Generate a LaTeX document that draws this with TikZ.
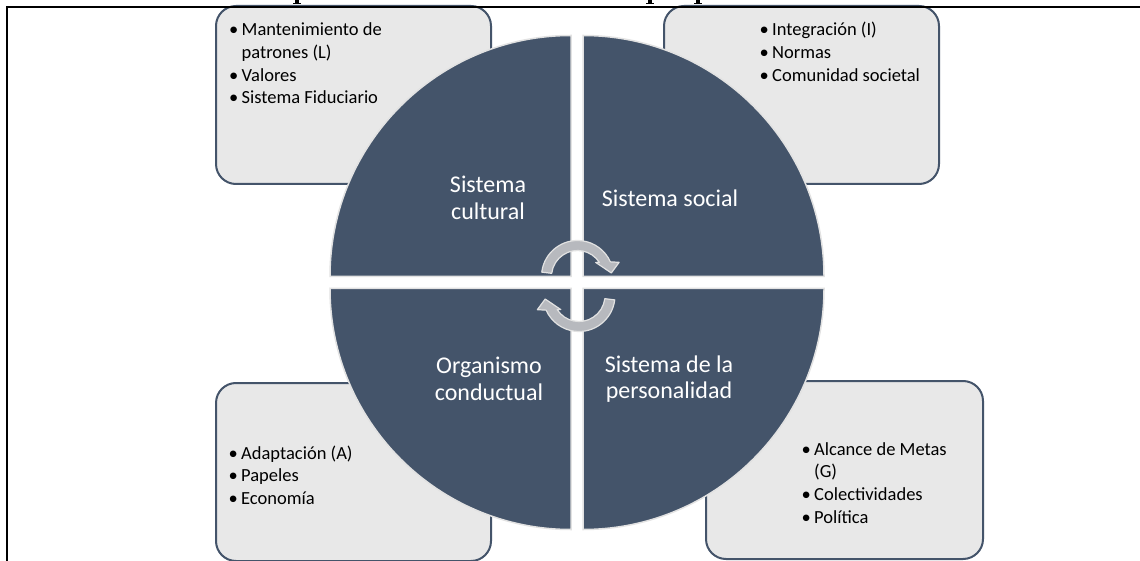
\documentclass[tikz,border=0pt]{standalone}
\usepackage{fontspec}
\setmainfont{Carlito}
\definecolor{slate}{HTML}{44546A}
\definecolor{boxgray}{HTML}{E8E8E8}
\definecolor{arrowgray}{RGB}{183,185,190}
\definecolor{edgegray}{RGB}{226,226,226}
\tikzset{
  infobox/.style={draw=slate, fill=boxgray, line width=2pt, rounded corners=20pt, inner sep=0pt, anchor=north west},
  quad/.style={fill=slate, draw=edgegray, line width=1.5pt, line join=miter},
  cyclearrow/.style={fill=arrowgray, draw=edgegray, line width=1.2pt, line join=round},
  bultext/.style={anchor=base west, inner sep=0pt, font=\fontsize{18.5}{22.8}\selectfont},
  quadlabel/.style={text=white, align=center, inner sep=0pt, font=\fontsize{24}{26.5}\selectfont},
  frameline/.style={line width=2pt, draw=black},
  glyphpart/.style={fill=black},
}
\newcommand\bul{\makebox[12.5pt][l]{\textbullet}}
\newcommand\cyclearrowpath{(173:36) arc[start angle=173, end angle=24, radius=36] -- (18.8:44) -- (6:34) -- (37.6:23) -- (33:26) arc[start angle=33, end angle=173, radius=26] -- cycle}
\begin{document}
\begin{tikzpicture}[x=1pt,y=1pt]
\useasboundingbox (0,0) rectangle (1140,-561);
\fill[white] (0,0) rectangle (1140,-561);

% cut-off title descenders
\fill[glyphpart] (295,0) rectangle (299,-4.2);
\fill[glyphpart] (292.8,-2.8) rectangle (301,-4.2);
\fill[glyphpart] (648,0) rectangle (652,-4.2);
\fill[glyphpart] (645.8,-2.8) rectangle (654,-4.2);
\fill[glyphpart] (696,0) rectangle (700,-4.2);
\fill[glyphpart] (693.8,-2.8) rectangle (702,-4.2);

% boxes
\node[infobox, minimum width=275pt, minimum height=178pt] (boxL) at (215,-5) {};
\node[infobox, minimum width=275pt, minimum height=178pt] (boxI) at (663,-5) {};
\node[infobox, minimum width=275pt, minimum height=178pt] (boxA) at (215,-382) {};
\node[infobox, minimum width=277pt, minimum height=178pt] (boxG) at (705,-380) {};

% quadrants
\path[quad] (571,-276.5) -- ++(-241,0) arc[start angle=180, end angle=90, radius=241] -- cycle;
\path[quad] (583,-276.5) -- ++(0,241) arc[start angle=90, end angle=0, radius=241] -- cycle;
\path[quad] (571,-288.5) -- ++(-241,0) arc[start angle=180, end angle=270, radius=241] -- cycle;
\path[quad] (583,-288.5) -- ++(241,0) arc[start angle=0, end angle=-90, radius=241] -- cycle;

% cycle arrows
\begin{scope}[shift={(577.5,-276.5)}]
\draw[cyclearrow] \cyclearrowpath;
\end{scope}
\begin{scope}[shift={(579,-295.5)}, rotate=180]
\draw[cyclearrow] \cyclearrowpath;
\end{scope}

% quadrant labels
\node[quadlabel] (qL) at (488,-198) {Sistema\\cultural};
\node[quadlabel] (qI) at (670,-198) {Sistema social};
\node[quadlabel] (qA) at (489,-379) {Organismo\\conductual};
\node[quadlabel] (qG) at (669,-379) {Sistema de la\\personalidad};

% box texts
\node[bultext] (tL) at (229,-35.5) {\begin{tabular}[t]{@{}l@{}l@{}}\bul&Mantenimiento de\\&patrones (L)\\\bul&Valores\\\bul&Sistema Fiduciario\end{tabular}};
\node[bultext] (tI) at (759.5,-36) {\begin{tabular}[t]{@{}l@{}l@{}}\bul&Integración (I)\\\bul&Normas\\\bul&Comunidad societal\end{tabular}};
\node[bultext] (tA) at (228.5,-459) {\begin{tabular}[t]{@{}l@{}l@{}}\bul&Adaptación (A)\\\bul&Papeles\\\bul&Economía\end{tabular}};
\node[bultext] (tG) at (801.5,-455) {\begin{tabular}[t]{@{}l@{}l@{}}\bul&Alcance de Metas\\&(G)\\\bul&Colectividades\\\bul&Política\end{tabular}};

% frame
\coordinate (fb) at (7,-561);
\coordinate (fc) at (7,-7);
\coordinate (fr) at (1140,-7);
\draw[frameline] (fb) -- (fc) -- (fr);
\end{tikzpicture}
\end{document}
